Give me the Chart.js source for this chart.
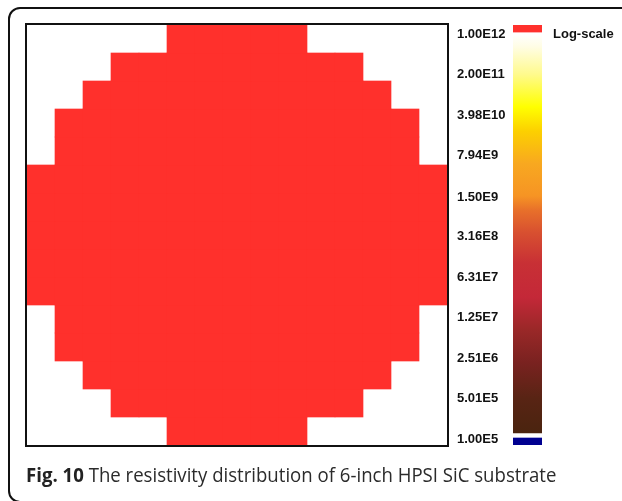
<!DOCTYPE html>
<html>
<head>
<meta charset="utf-8">
<script src="https://cdn.jsdelivr.net/npm/chart.js@4/dist/chart.umd.min.js"></script>
<style>
  html, body { margin: 0; padding: 0; background: #fff; overflow: hidden; }
  #page { width: 622px; height: 501px; position: relative; overflow: hidden; }
  #frame {
    position: absolute; left: 8px; top: 7px; width: 760px; height: 492px;
    border: 2px solid #111; border-radius: 12px;
  }
  #plot {
    position: absolute; left: 25px; top: 23px; width: 420px; height: 420px;
    border: 2px solid #111;
  }
  #bar { position: absolute; left: 450px; top: 0; width: 172px; height: 470px; }
  #logLabel {
    position: absolute; left: 553px; top: 26px;
    font: bold 13px "Liberation Sans", Arial, sans-serif; color: #111;
  }
  #caption {
    position: absolute; left: 26px; top: 461px; white-space: nowrap;
    font: 20px "Open Sans", sans-serif; color: #2b2b2b;
    transform: scaleX(0.93); transform-origin: 0 0;
  }
  #caption b { color: #222; }
</style>
</head>
<body>
<div id="page">
<div id="frame"></div>
<div id="plot"><canvas id="map" width="420" height="420"></canvas></div>
<canvas id="bar" width="172" height="470"></canvas>
<div id="logLabel">Log-scale</div>
<div id="caption"><b>Fig. 10</b> The resistivity distribution of 6-inch HPSI SiC substrate</div>
</div>

<script>
// grid positions across the wafer
const colLabels = ["1","2","3","4","5","6","7","8","9","10","11","12","13","14","15"];
const rowLabels = ["1","2","3","4","5","6","7","8","9","10","11","12","13","14","15"];

// resistivity per cell (ohm·cm); every measured cell is above the top of the scale
const R = 1.5e12;
const N = null;
const cellValues = [
  [N,N,N,N,N,R,R,R,R,R,N,N,N,N,N],
  [N,N,N,R,R,R,R,R,R,R,R,R,N,N,N],
  [N,N,R,R,R,R,R,R,R,R,R,R,R,N,N],
  [N,R,R,R,R,R,R,R,R,R,R,R,R,R,N],
  [N,R,R,R,R,R,R,R,R,R,R,R,R,R,N],
  [R,R,R,R,R,R,R,R,R,R,R,R,R,R,R],
  [R,R,R,R,R,R,R,R,R,R,R,R,R,R,R],
  [R,R,R,R,R,R,R,R,R,R,R,R,R,R,R],
  [R,R,R,R,R,R,R,R,R,R,R,R,R,R,R],
  [R,R,R,R,R,R,R,R,R,R,R,R,R,R,R],
  [N,R,R,R,R,R,R,R,R,R,R,R,R,R,N],
  [N,R,R,R,R,R,R,R,R,R,R,R,R,R,N],
  [N,N,R,R,R,R,R,R,R,R,R,R,R,N,N],
  [N,N,N,R,R,R,R,R,R,R,R,R,N,N,N],
  [N,N,N,N,N,R,R,R,R,R,N,N,N,N,N]
];

// colour bar tick labels, bottom to top
const tickLabels = ["1.00E5","5.01E5","2.51E6","1.25E7","6.31E7","3.16E8",
                    "1.50E9","7.94E9","3.98E10","2.00E11","1.00E12"];

const scaleMin = 1e5;
const scaleMax = 1e12;
const overColor = "#ff302c";
const underColor = "#000090";

// colour map stops, 0 = bottom (1E5), 1 = top (1E12)
const stops = [
  [0.00, [72, 36, 14]],
  [0.10, [88, 36, 20]],
  [0.19, [122, 34, 32]],
  [0.27, [154, 40, 40]],
  [0.35, [196, 40, 56]],
  [0.435, [200, 48, 53]],
  [0.51, [216, 80, 48]],
  [0.565, [232, 112, 42]],
  [0.60, [246, 148, 36]],
  [0.68, [248, 168, 32]],
  [0.76, [252, 208, 0]],
  [0.82, [255, 255, 0]],
  [0.90, [255, 250, 140]],
  [0.97, [255, 253, 230]],
  [1.00, [255, 255, 255]]
];

function colorFor(v) {
  if (v == null) return "rgba(0,0,0,0)";
  if (v > scaleMax) return overColor;
  if (v < scaleMin) return underColor;
  const t = (Math.log10(v) - 5) / 7;
  for (let i = 1; i < stops.length; i++) {
    if (t <= stops[i][0]) {
      const a = stops[i - 1], b = stops[i];
      const f = (t - a[0]) / (b[0] - a[0]);
      const c = a[1].map((x, k) => Math.round(x + (b[1][k] - x) * f));
      return `rgb(${c[0]},${c[1]},${c[2]})`;
    }
  }
  return "#fff";
}

// wafer map: one floating-bar dataset per row
const mapDatasets = cellValues.map((row, r) => ({
  label: rowLabels[r],
  data: row.map(v => v == null ? null : [r, r + 1]),
  backgroundColor: row.map(v => colorFor(v)),
  borderWidth: 0,
  grouped: false,
  barPercentage: 1,
  categoryPercentage: 1
}));

new Chart(document.getElementById("map"), {
  type: "bar",
  data: { labels: colLabels, datasets: mapDatasets },
  options: {
    responsive: false,
    animation: false,
    layout: { padding: 0 },
    plugins: { legend: { display: false }, tooltip: { enabled: false } },
    scales: {
      x: { display: false },
      y: { display: false, min: 0, max: 15, reverse: true }
    }
  }
});

// colour bar
new Chart(document.getElementById("bar"), {
  type: "bar",
  data: {
    labels: ["scale"],
    datasets: [
      {
        data: [[1.27e5, scaleMax]],
        backgroundColor: ctx => {
          const area = ctx.chart.chartArea;
          if (!area) return "#fff";
          const y = ctx.chart.scales.y;
          const top = y.getPixelForValue(scaleMax);
          const bottom = y.getPixelForValue(scaleMin);
          const g = ctx.chart.ctx.createLinearGradient(0, bottom, 0, top);
          stops.forEach(s => g.addColorStop(s[0], `rgb(${s[1].join(",")})`));
          return g;
        }
      },
      { data: [[1.08e12, 1.43e12]], backgroundColor: overColor },
      { data: [[7.87e4, 1.04e5]], backgroundColor: underColor }
    ].map(d => Object.assign(d, {
      borderWidth: 0, grouped: false, barPercentage: 1, categoryPercentage: 1
    }))
  },
  options: {
    responsive: false,
    animation: false,
    layout: { padding: { left: 7, right: 80, top: 25, bottom: 25 } },
    plugins: { legend: { display: false }, tooltip: { enabled: false } },
    scales: {
      x: { display: false },
      y: {
        type: "logarithmic",
        min: 7.87e4,
        max: 1.43e12,
        position: "left",
        grid: { display: false, drawTicks: false },
        border: { display: false },
        afterFit: scale => { scale.width = 56; },
        afterBuildTicks: scale => {
          scale.ticks = tickLabels.map(l => ({ value: parseFloat(l) }));
        },
        ticks: {
          autoSkip: false,
          crossAlign: "far",
          padding: 0,
          color: "#111",
          font: { family: "'Liberation Sans', Arial, sans-serif", size: 13, weight: "bold" },
          callback: (value, i) => tickLabels[i]
        }
      }
    }
  }
});
</script>
</body>
</html>
